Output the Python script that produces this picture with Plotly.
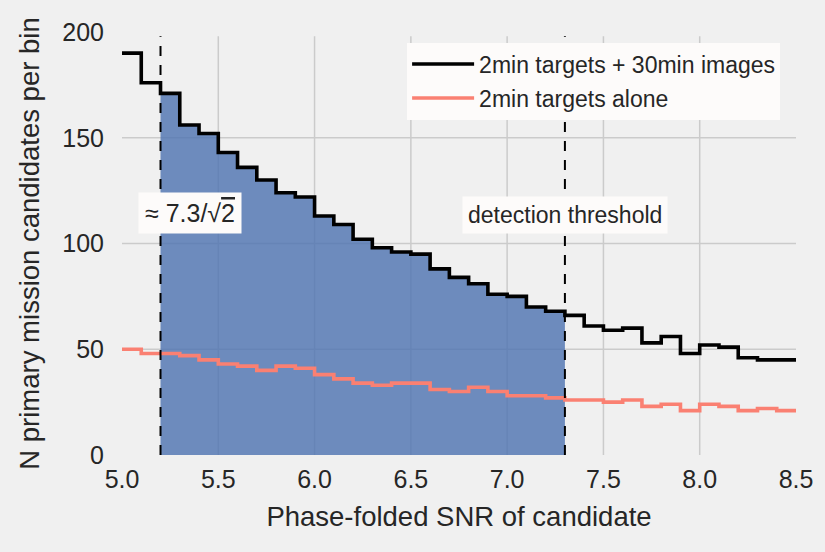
import numpy as np
import plotly.graph_objects as go

# Histogram bin edges (phase-folded SNR), bin width 0.1
bin_edges = [5.0, 5.1, 5.2, 5.3, 5.4, 5.5, 5.6, 5.7, 5.8, 5.9,
             6.0, 6.1, 6.2, 6.3, 6.4, 6.5, 6.6, 6.7, 6.8, 6.9,
             7.0, 7.1, 7.2, 7.3, 7.4, 7.5, 7.6, 7.7, 7.8, 7.9,
             8.0, 8.1, 8.2, 8.3, 8.4, 8.5]

# Candidates per bin: 2-min targets plus 30-min full-frame images
counts_combined = [190, 176, 171, 156, 152, 143, 136, 130, 124, 122,
                   113, 109, 102, 98, 96, 95, 88, 84, 81, 76,
                   75, 70, 68, 66, 61, 59, 60, 53, 56, 48,
                   52, 51, 46, 45, 45]

# Candidates per bin: 2-min targets only
counts_2min = [50, 48, 48, 47, 45, 43, 42, 40, 42, 41,
               38, 36, 34, 33, 34, 34, 31, 30, 32, 30,
               28, 28, 27, 26, 26, 25, 26, 23, 24, 21,
               24, 23, 21, 22, 21]

snr_low = 5.2          # ~ 7.3 / sqrt(2)
snr_threshold = 7.3    # detection threshold

x_ticks = [5.0, 5.5, 6.0, 6.5, 7.0, 7.5, 8.0, 8.5]
y_ticks = [0, 50, 100, 150, 200]

GRID = "#cbcbcb"
TEXT = "#262626"
BOX = "#fdfbfa"


def step_xy(edges, counts):
    # step outline: one point per left edge, plus the final right edge
    return list(edges), list(counts) + [counts[-1]]


fig = go.Figure()

# interior grid lines (none on the frame edges)
for xv in x_ticks[1:-1]:
    fig.add_shape(type="line", xref="x", yref="paper", x0=xv, x1=xv, y0=0, y1=0.99,
                  line=dict(color=GRID, width=1.5), layer="below")
for yv in y_ticks[1:-1]:
    fig.add_shape(type="line", xref="paper", yref="y", x0=0, x1=1, y0=yv, y1=yv,
                  line=dict(color=GRID, width=1.5), layer="below")

# shaded region between the two SNR markers, under the combined histogram
lo = bin_edges.index(snr_low)
hi = bin_edges.index(snr_threshold)
fx = bin_edges[lo:hi + 1]
fy = counts_combined[lo:hi] + [counts_combined[hi - 1]]
fig.add_trace(go.Scatter(
    x=fx, y=fy, mode="lines", line=dict(width=0, shape="hv"),
    fill="tozeroy", fillcolor="rgba(76,114,176,0.8)",
    showlegend=False, hoverinfo="skip",
))

bx, by = step_xy(bin_edges, counts_combined)
fig.add_trace(go.Scatter(
    x=bx, y=by, mode="lines", name="2min targets + 30min images",
    legendgroup="a",
    line=dict(color="black", width=3.6, shape="hv"),
))

rx, ry = step_xy(bin_edges, counts_2min)
fig.add_trace(go.Scatter(
    x=rx, y=ry, mode="lines", name="2min targets alone",
    legendgroup="b",
    line=dict(color="#fa8072", width=3.6, shape="hv"),
))

for xv in (snr_low, snr_threshold):
    fig.add_shape(type="line", xref="x", yref="paper", x0=xv, x1=xv, y0=0, y1=0.99,
                  line=dict(color="black", width=2, dash="10px,9px"), layer="above")

fig.add_annotation(
    x=5.355, y=114.5, xref="x", yref="y",
    text="≈ 7.3/√<span style='text-decoration:overline'>2</span>",
    showarrow=False, font=dict(size=25, color=TEXT, family="Liberation Sans"),
    bgcolor=BOX, borderpad=6,
)
fig.add_annotation(
    x=snr_threshold, y=113.3, xref="x", yref="y",
    text="detection threshold",
    showarrow=False, font=dict(size=23, color=TEXT, family="Liberation Sans"),
    bgcolor=BOX, borderpad=5,
)

fig.update_layout(
    width=825, height=552,
    margin=dict(l=122, r=29, t=32, b=97),
    paper_bgcolor="#f0f0f0", plot_bgcolor="#f0f0f0",
    font=dict(family="Liberation Sans", color=TEXT),
    legend=dict(
        x=0.423, y=0.975, xanchor="left", yanchor="top",
        bgcolor=BOX, borderwidth=0,
        font=dict(size=23, color=TEXT),
        tracegroupgap=1, itemwidth=62,
    ),
    xaxis=dict(
        range=[5.0, 8.5], tickvals=x_ticks, ticktext=[f"{v:.1f}" for v in x_ticks],
        showgrid=False, zeroline=False, showline=False,
        ticks="outside", ticklen=2, tickcolor="rgba(0,0,0,0)",
        tickfont=dict(size=25),
        title=dict(text="Phase-folded SNR of candidate", font=dict(size=27.5), standoff=14),
    ),
    yaxis=dict(
        range=[0, 200], tickvals=y_ticks,
        showgrid=False, zeroline=False, showline=False,
        ticks="outside", ticklen=12, tickcolor="rgba(0,0,0,0)",
        tickfont=dict(size=25),
        title=dict(text="N primary mission candidates per bin", font=dict(size=27.5), standoff=14),
    ),
)

fig.write_html("out.html")
